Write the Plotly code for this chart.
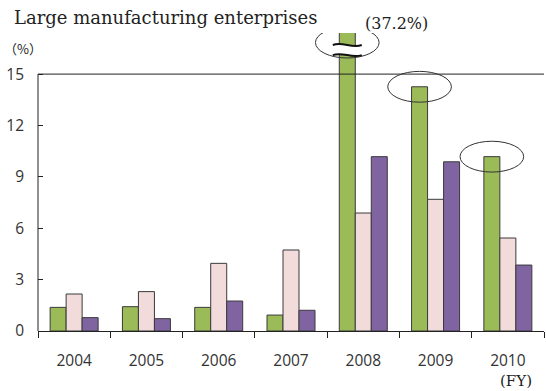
import plotly.graph_objects as go

# Fiscal years and the three series (%)
years = ["2004", "2005", "2006", "2007", "2008", "2009", "2010"]
series_green = [1.38, 1.42, 1.38, 0.93, 37.2, 14.26, 10.18]
series_pink = [2.16, 2.30, 3.95, 4.73, 6.89, 7.69, 5.43]
series_purple = [0.78, 0.72, 1.75, 1.21, 10.18, 9.88, 3.85]
y_ticks = [0, 3, 6, 9, 12, 15]

colors = ["#9BBB59", "#F2DCDB", "#8064A2"]
edge = "#3a3a3a"

Y_MAX_SHOWN = 15
Y_TOP = 17.4   # headroom above 15 so the broken bar pokes out of the frame
BARGAP = 0.336
bar_w = (1 - BARGAP) / 3

fig = go.Figure()
for vals, col in zip([series_green, series_pink, series_purple], colors):
    fig.add_trace(go.Bar(
        x=years, y=vals, marker=dict(color=col, line=dict(color=edge, width=1)),
        showlegend=False, hoverinfo="skip",
    ))

shapes = []
# left axis line (0..15) and top frame line at 15
shapes.append(dict(type="line", xref="paper", yref="y", x0=0, x1=0, y0=0, y1=Y_MAX_SHOWN,
                   line=dict(color="#222", width=1)))
shapes.append(dict(type="line", xref="paper", yref="y", x0=0, x1=1, y0=Y_MAX_SHOWN, y1=Y_MAX_SHOWN,
                   line=dict(color="#222", width=1)))

# ellipses around the tops of the green bars for 2008-2010
ell_rx, ell_ry = 0.44, 0.9
for i in range(4, 7):
    cx = i - bar_w
    cy = min(series_green[i], 16.84)
    shapes.append(dict(type="circle", xref="x", yref="y",
                       x0=cx - ell_rx, x1=cx + ell_rx, y0=cy - ell_ry, y1=cy + ell_ry,
                       line=dict(color="#333", width=1)))

# break marks on the 2008 green bar
i_break = years.index("2008")
bx = i_break - bar_w
hw = 0.2
amp = 0.22
y_hi, y_lo = 16.70, 16.11


def wave(y, reverse=False):
    x0, x1 = bx - hw, bx + hw
    if not reverse:
        return f"M {x0},{y} C {x0 + 2*hw/3},{y + amp} {x0 + 4*hw/3},{y - amp} {x1},{y}"
    return f"L {x1},{y} C {x0 + 4*hw/3},{y - amp} {x0 + 2*hw/3},{y + amp} {x0},{y}"


gap_path = wave(y_hi) + " " + wave(y_lo, reverse=True) + " Z"
shapes.append(dict(type="path", xref="x", yref="y", path=gap_path,
                   fillcolor="white", line=dict(width=0)))
shapes.append(dict(type="path", xref="x", yref="y", path=wave(y_hi), line=dict(color="#111", width=2)))
shapes.append(dict(type="path", xref="x", yref="y", path=wave(y_lo), line=dict(color="#111", width=2)))

serif = "DejaVu Serif"
annotations = [
    dict(text="Large manufacturing enterprises", xref="paper", yref="paper", x=-0.052, y=1.0,
         xanchor="left", yanchor="bottom", yshift=3, showarrow=False,
         font=dict(family=serif, size=18, color="#222")),
    dict(text=f"({series_green[i_break]}%)", xref="x", yref="paper", x=i_break, y=1.0,
         xanchor="left", yanchor="middle", yshift=10, showarrow=False,
         font=dict(family=serif, size=16, color="#222")),
    dict(text="（%）", xref="paper", yref="paper", x=-0.072, y=1.0, xanchor="left",
         yanchor="middle", yshift=-15, showarrow=False,
         font=dict(family="Noto Sans CJK JP", size=13, color="#222")),
    dict(text="(FY)", xref="x", yref="paper", x=6, y=0, xanchor="center", yanchor="top",
         yshift=-39, xshift=8, showarrow=False, font=dict(family=serif, size=15, color="#222")),
]

fig.update_layout(
    width=546, height=391,
    margin=dict(l=38, r=2, t=33, b=60),
    paper_bgcolor="white", plot_bgcolor="white",
    barmode="group", bargap=BARGAP, bargroupgap=0,
    shapes=shapes, annotations=annotations,
    font=dict(family="Open Sans", size=15, color="#333"),
)
fig.update_xaxes(
    type="category", showline=True, linecolor="#222", linewidth=1,
    ticks="outside", ticklen=6, tickcolor="#222", tickson="boundaries",
    showgrid=False, ticklabelstandoff=15,
    tickfont=dict(family="Open Sans", size=15.5, color="#333"),
)
fig.update_yaxes(
    range=[0, Y_TOP], tickvals=y_ticks, showgrid=False, zeroline=False, showline=False,
    ticks="inside", ticklen=5, tickcolor="#222", ticklabelstandoff=13,
    tickfont=dict(family="Open Sans", size=15.5, color="#333"),
)

fig.write_html("out.html")
